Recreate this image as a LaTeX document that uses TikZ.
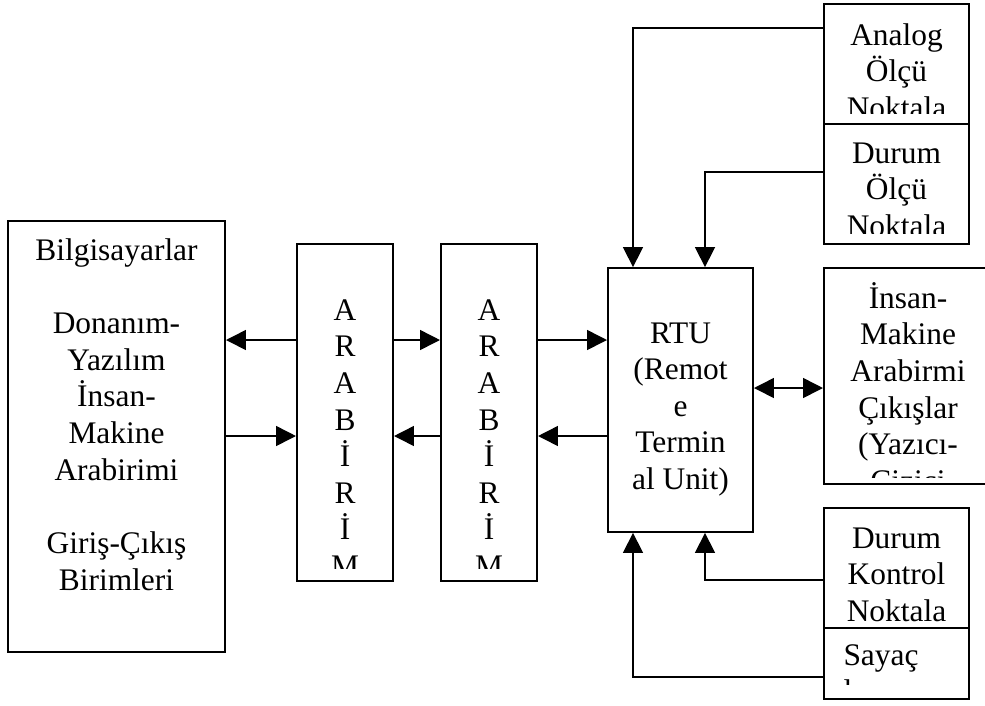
\documentclass[tikz,border=0pt]{standalone}
\usepackage{fontspec}
\setmainfont{Liberation Serif}
\usetikzlibrary{arrows.meta}

\begin{document}
\begin{tikzpicture}[x=0.382pt, y=-0.382pt,
  box/.style = {draw, line width=0.75pt, inner sep=0pt},
  txt/.style = {align=center, anchor=base, inner sep=0pt, font=\fontsize{12}{14}\selectfont},
  arr/.style = {line width=0.6pt, -{Triangle[length=7.6pt, width=7.6pt]}},
  darr/.style = {line width=0.6pt, {Triangle[length=7.6pt, width=7.6pt]}-{Triangle[length=7.6pt, width=7.6pt]}}]
  \clip (0,0) rectangle (985,705);

  \node[box, minimum width=82.9pt, minimum height=164.6pt] (bilg) at (116.5,436.5) {};
  \node[box, minimum width=36.7pt, minimum height=128.7pt] (arb1) at (345,412.5) {};
  \node[box, minimum width=36.7pt, minimum height=128.7pt] (arb2) at (489,412.5) {};
  \node[box, minimum width=55.4pt, minimum height=100.8pt] (rtu) at (680.5,400) {};
  \node[box, minimum width=55.4pt, minimum height=45.8pt] (analog) at (896.5,64) {};
  \node[box, minimum width=55.4pt, minimum height=45.8pt] (durumolcu) at (896.5,184) {};
  \node[box, minimum width=64.2pt, minimum height=82.5pt] (insan) at (908,376) {};
  \node[box, minimum width=55.4pt, minimum height=45.8pt] (kontrol) at (896.5,568) {};
  \node[box, minimum width=55.4pt, minimum height=27.1pt] (sayac) at (896.5,663.5) {};

  \node[txt] (bilgtxt) at (116.5,590) {Bilgisayarlar\\[14pt]Donanım-\\Yazılım\\İnsan-\\Makine\\Arabirimi\\[14pt]Giriş-Çıkış\\Birimleri};
  \node[txt] (rtutxt) at (680.5,489.6) {RTU\\(Remot\\e\\Termin\\al Unit)};
  \begin{scope}
    \clip (297,244) rectangle (537,568);
    \node[txt] (arb1txt) at (345,576.6) {A\\R\\A\\B\\İ\\R\\İ\\M};
    \node[txt] (arb2txt) at (489,576.6) {A\\R\\A\\B\\İ\\R\\İ\\M};
  \end{scope}
  \begin{scope}
    \clip (824,4) rectangle (969,113);
    \node[txt] (analogtxt) at (896.5,118.3) {Analog\\Ölçü\\Noktala};
  \end{scope}
  \begin{scope}
    \clip (824,124) rectangle (969,233);
    \node[txt] (durumolcutxt) at (896.5,236.3) {Durum\\Ölçü\\Noktala};
  \end{scope}
  \begin{scope}
    \clip (824,268) rectangle (985,477);
    \node[txt] (insantxt) at (908,491.3) {İnsan-\\Makine\\Arabirmi\\Çıkışlar\\(Yazıcı-\\Çizici};
  \end{scope}
  \begin{scope}
    \clip (824,508) rectangle (969,626);
    \node[txt] (kontroltxt) at (896.5,621.3) {Durum\\Kontrol\\Noktala};
  \end{scope}
  \begin{scope}
    \clip (824,628) rectangle (969,684);
    \node[txt, anchor=base west, align=left] (sayactxt) at (843,701.7) {Sayaç\\ları};
  \end{scope}

  \coordinate (up) at (0,340);
  \coordinate (down) at (0,436);
  \coordinate (mid) at (0,388);
  \coordinate (outer) at (633,0);
  \coordinate (inner) at (705,0);

  \draw[arr] (arb1.west |- up) -- (bilg.east |- up);
  \draw[arr] (bilg.east |- down) -- (arb1.west |- down);
  \draw[arr] (arb1.east |- up) -- (arb2.west |- up);
  \draw[arr] (arb2.west |- down) -- (arb1.east |- down);
  \draw[arr] (arb2.east |- up) -- (rtu.west |- up);
  \draw[arr] (rtu.west |- down) -- (arb2.east |- down);
  \draw[darr] (rtu.east |- mid) -- (insan.west |- mid);
  \draw[arr] (analog.west |- 0,28) -| (rtu.north -| outer);
  \draw[arr] (durumolcu.west |- 0,172) -| (rtu.north -| inner);
  \draw[arr] (kontrol.west |- 0,580) -| (rtu.south -| inner);
  \draw[arr] (sayac.west |- 0,677) -| (rtu.south -| outer);
\end{tikzpicture}
\end{document}
